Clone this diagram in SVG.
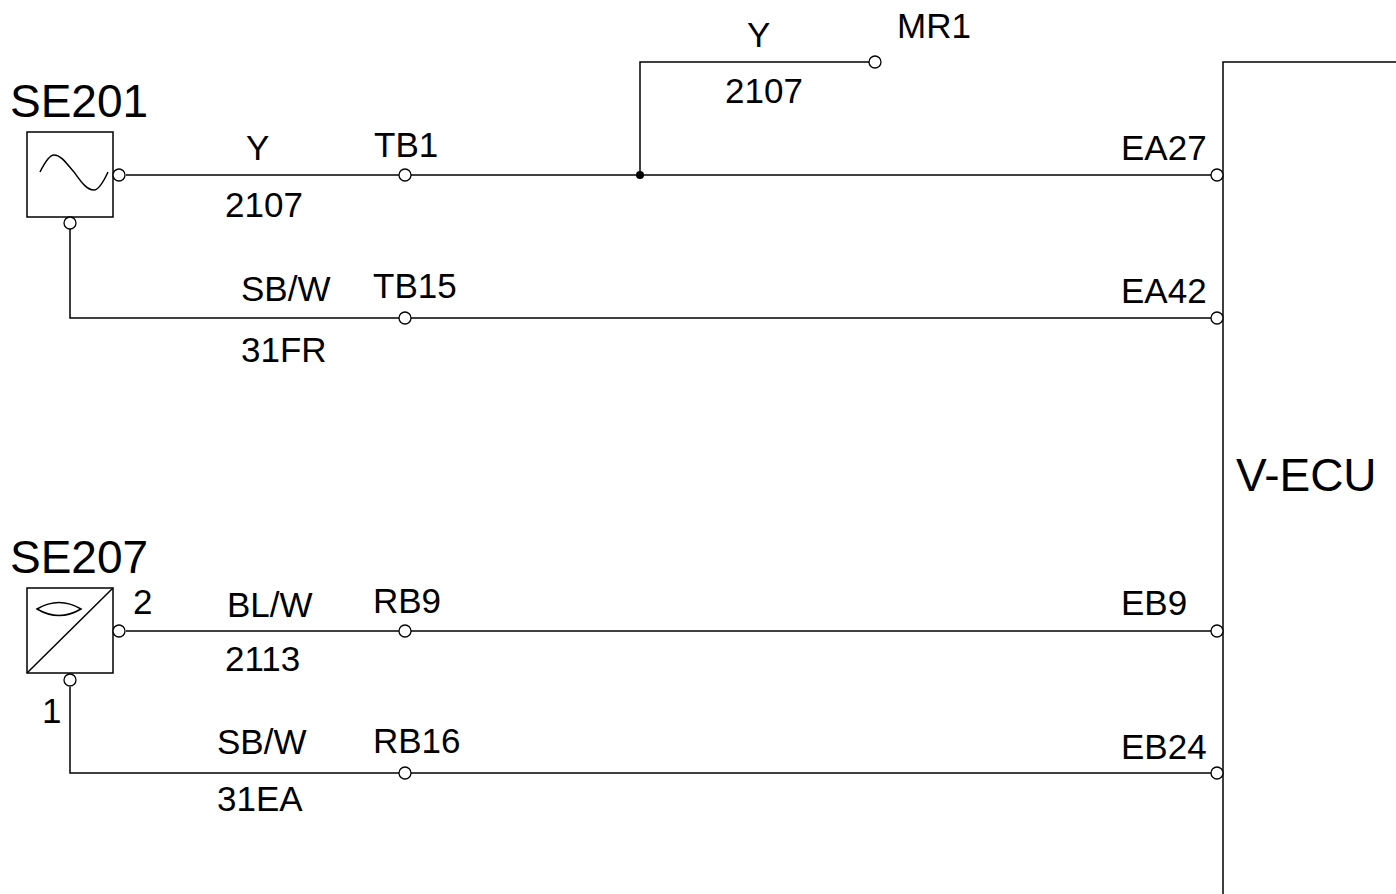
<svg xmlns="http://www.w3.org/2000/svg" width="1396" height="894" viewBox="0 0 1396 894">
<style>
.w{fill:none;stroke:#000;stroke-width:1.5}
.c{fill:#fff;stroke:#000;stroke-width:1.3}
.t{font-family:"Liberation Sans",Arial,sans-serif;font-size:35px;fill:#000}
.b{font-family:"Liberation Sans",Arial,sans-serif;font-size:46px;fill:#000}
</style>
<rect width="1396" height="894" fill="#fff"/>
<g id="connectors">
<polyline class="w" points="126,175 399,175"/>
<polyline class="w" points="411,175 1211,175"/>
<polyline class="w" points="640,175 640,62 869,62"/>
<circle cx="640" cy="175" r="4" fill="#000"/>
<polyline class="w" points="70,229 70,318 399,318"/>
<polyline class="w" points="411,318 1211,318"/>
<polyline class="w" points="126,631 399,631"/>
<polyline class="w" points="411,631 1211,631"/>
<polyline class="w" points="70,687 70,773 399,773"/>
<polyline class="w" points="411,773 1211,773"/>
<circle class="c" cx="405" cy="175" r="6"/>
<circle class="c" cx="405" cy="318" r="6"/>
<circle class="c" cx="405" cy="631" r="6"/>
<circle class="c" cx="405" cy="773" r="6"/>
<text class="t" x="246" y="160">Y</text>
<text class="t" x="225" y="217">2107</text>
<text class="t" x="374" y="157">TB1</text>
<text class="t" x="241" y="301">SB/W</text>
<text class="t" x="241" y="362">31FR</text>
<text class="t" x="373" y="298">TB15</text>
<text class="t" x="227" y="617">BL/W</text>
<text class="t" x="225" y="671">2113</text>
<text class="t" x="373" y="613">RB9</text>
<text class="t" x="217" y="754">SB/W</text>
<text class="t" x="217" y="811">31EA</text>
<text class="t" x="373" y="753">RB16</text>
<text class="t" x="747" y="47">Y</text>
<text class="t" x="725" y="103">2107</text>
</g>
<g id="MR1">
<circle class="c" cx="875" cy="62" r="6"/>
<text class="t" x="897" y="38">MR1</text>
</g>
<g id="SE201">
<text class="b" x="10" y="117">SE201</text>
<rect class="w" x="27" y="132" width="86" height="85"/>
<path class="w" d="M40,172 C46,160 50,155 54,155 C62,155 68,166 74,172 C80,180 86,190 94,190 C98,190 102,185 108,172"/>
<circle class="c" cx="119" cy="175" r="6"/>
<circle class="c" cx="70" cy="223" r="6"/>
</g>
<g id="SE207">
<text class="b" x="10" y="573">SE207</text>
<rect class="w" x="27" y="588" width="86" height="85"/>
<line class="w" x1="27" y1="673" x2="113" y2="588"/>
<path class="w" d="M37,609 Q59,596 81,609 Q59,622 37,609 Z"/>
<circle class="c" cx="119" cy="631" r="6"/>
<circle class="c" cx="70" cy="680" r="6"/>
<text class="t" x="133" y="614">2</text>
<text class="t" x="42" y="723">1</text>
</g>
<g id="V-ECU">
<polyline class="w" points="1396,62 1223,62 1223,894"/>
<circle class="c" cx="1217" cy="175" r="6"/>
<circle class="c" cx="1217" cy="318" r="6"/>
<circle class="c" cx="1217" cy="631" r="6"/>
<circle class="c" cx="1217" cy="773" r="6"/>
<text class="t" x="1121" y="160">EA27</text>
<text class="t" x="1121" y="303">EA42</text>
<text class="t" x="1121" y="615">EB9</text>
<text class="t" x="1121" y="759">EB24</text>
<text class="b" x="1236" y="491">V-ECU</text>
</g>
</svg>
